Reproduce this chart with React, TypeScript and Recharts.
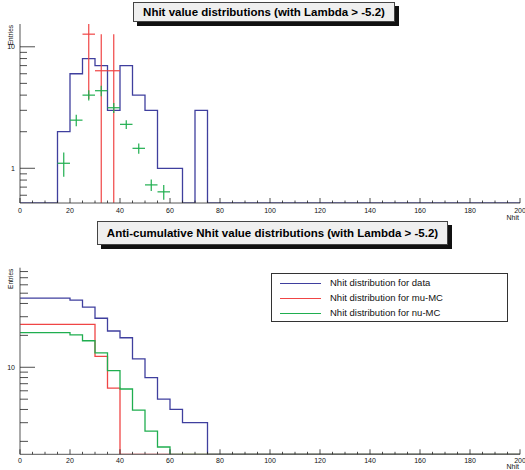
import React from "react";
import { ComposedChart, Line, Scatter, ErrorBar, XAxis, YAxis, Legend, Label } from "recharts";

const FONT = '"Liberation Sans", Arial, sans-serif';
const BLUE = "#3f3f9e";
const RED = "#f04545";
const GREEN = "#1fae4f";
const AXIS = "#555";

// x axis (Nhit)
const X_TICKS = [
  0, 5, 10, 15, 20, 25, 30, 35, 40, 45, 50, 55, 60, 65, 70, 75, 80, 85, 90, 95, 100,
  105, 110, 115, 120, 125, 130, 135, 140, 145, 150, 155, 160, 165, 170, 175, 180, 185, 190, 195, 200,
];
const X_LABELED = [0, 20, 40, 60, 80, 100, 120, 140, 160, 180, 200];
const BIN_HALF = 2.5;

// top panel: Nhit value distributions
const TOP_Y_DOMAIN = [0.518, 15.4];
const TOP_Y_TICKS = [0.6, 0.7, 0.8, 0.9, 1, 2, 3, 4, 5, 6, 7, 8, 9, 10];
const TOP_Y_LABELED = [1, 10];

const DATA_BIN_LO = [0, 15, 20, 25, 30, 35, 40, 45, 50, 55, 60, 65, 70, 75, 200];
const DATA_COUNTS = [0, 2, 6, 8, 7, 3, 7, 4, 3, 1, 1, 0, 3, 0, 0];

const MU_X = [27.5, 32.5, 37.5];
const MU_Y = [12.7, 6.35, 6.35];
const MU_ERR = [8.98, 6.35, 6.35];

const NU_X = [17.5, 22.5, 27.5, 32.5, 37.5, 42.5, 47.5, 52.5, 57.5];
const NU_Y = [1.1, 2.49, 4.0, 4.35, 3.15, 2.3, 1.46, 0.73, 0.64];
const NU_ERR = [0.25, 0.27, 0.38, 0.43, 0.3, 0.19, 0.14, 0.08, 0.09];

// bottom panel: anti-cumulative distributions
const ANTI_Y_DOMAIN = [1.51, 87];
const ANTI_Y_TICKS = [2, 3, 4, 5, 6, 7, 8, 9, 10, 20, 30, 40, 50, 60, 70, 80];
const ANTI_Y_LABELED = [10];

const ANTI_DATA_LO = [0, 20, 25, 30, 35, 40, 45, 50, 55, 60, 65, 75, 200];
const ANTI_DATA = [45, 43, 37, 29, 22, 19, 12, 8, 5, 4, 3, 0, 0];
const ANTI_MU_LO = [0, 30, 35, 40, 200];
const ANTI_MU = [25.4, 12.7, 6.35, 0, 0];
const ANTI_NU_LO = [0, 20, 25, 30, 35, 40, 45, 50, 55, 60, 200];
const ANTI_NU = [21.2, 20.2, 17.8, 13.7, 9.3, 6.24, 3.95, 2.5, 1.77, 0, 0];

const SERIES_NAMES = ["Nhit distribution for data", "Nhit distribution for mu-MC", "Nhit distribution for nu-MC"];
const SERIES_COLORS = [BLUE, RED, GREEN];

// empty bins sit on the bottom of a log axis
const steps = (lo: number[], vals: number[], ymin: number) =>
  lo.map((x, i) => ({ x, v: Math.max(vals[i], ymin) }));

// error crosses, clipped to the visible log range
const crosses = (xs: number[], ys: number[], errs: number[], dom: number[]) =>
  xs.map((x, i) => ({
    x,
    y: ys[i],
    ex: BIN_HALF,
    ey: [Math.min(errs[i], ys[i] - dom[0]), Math.min(errs[i], dom[1] - ys[i])],
  }));

function XTick(props: any) {
  const { x, y, payload, labelDy } = props;
  const v = payload.value;
  const major = X_LABELED.includes(v);
  return (
    <g>
      <line x1={x} x2={x} y1={y} y2={y - (major ? 5 : 2.5)} stroke="#222" strokeWidth={0.8} />
      {major && (
        <text x={x} y={y + labelDy} textAnchor="middle" fontSize={7} fontFamily={FONT} fill="#111">
          {v}
        </text>
      )}
    </g>
  );
}

function YTick(props: any) {
  const { x, y, payload, labeled, majorLen, minorLen } = props;
  const v = payload.value;
  const major = labeled.includes(v);
  return (
    <g>
      <line x1={x} x2={x + (major ? majorLen : minorLen)} y1={y} y2={y} stroke="#222" strokeWidth={0.8} />
      {major && (
        <text x={x - 5} y={y + 2.5} textAnchor="end" fontSize={7} fontFamily={FONT} fill="#111">
          {v}
        </text>
      )}
    </g>
  );
}

const yTitle = (props: any) => {
  const vb = props.viewBox;
  const tx = vb.x + 13;
  const ty = vb.y + 1;
  return (
    <text x={tx} y={ty} transform={`rotate(-90, ${tx}, ${ty})`} textAnchor="end" fontSize={6.5} fontFamily={FONT} fill="#111">
      Entries
    </text>
  );
};

const xTitle = (dy: number) => (props: any) => {
  const vb = props.viewBox;
  return (
    <text x={vb.x + vb.width - 1} y={vb.y + dy} textAnchor="end" fontSize={7} fontFamily={FONT} fill="#111">
      Nhit
    </text>
  );
};

function Title({ text, left, top, width, height }: any) {
  return (
    <div
      style={{
        position: "absolute",
        left,
        top,
        width,
        height,
        boxSizing: "border-box",
        border: "1px solid #444",
        background: "#efefef",
        boxShadow: "4px 4px 0 #111",
        display: "flex",
        alignItems: "center",
        justifyContent: "center",
        fontFamily: FONT,
        fontWeight: "bold",
        fontSize: 11.5,
        color: "#000",
        zIndex: 2,
      }}
    >
      {text}
    </div>
  );
}

function LegendBox() {
  return (
    <div
      style={{
        width: 237,
        height: 49,
        boxSizing: "border-box",
        border: "1px solid #333",
        background: "#fff",
        paddingTop: 1,
        fontFamily: FONT,
      }}
    >
      {SERIES_NAMES.map((name, i) => (
        <div key={name} style={{ position: "relative", height: 15 }}>
          <div style={{ position: "absolute", left: 8, top: 8, width: 41, height: 1, background: SERIES_COLORS[i] }} />
          <span style={{ position: "absolute", left: 58, top: 2, fontSize: 9.5, lineHeight: "12px", color: "#111", whiteSpace: "nowrap" }}>
            {name}
          </span>
        </div>
      ))}
    </div>
  );
}

function TopPanel() {
  const data = steps(DATA_BIN_LO, DATA_COUNTS, TOP_Y_DOMAIN[0]);
  const mu = crosses(MU_X, MU_Y, MU_ERR, TOP_Y_DOMAIN);
  const nu = crosses(NU_X, NU_Y, NU_ERR, TOP_Y_DOMAIN);
  return (
    <ComposedChart width={525} height={235} margin={{ top: 24, right: 5, bottom: 0, left: 0 }}>
      <Line data={data} dataKey="v" type="stepAfter" stroke={BLUE} strokeWidth={1.3} dot={false} activeDot={false} isAnimationActive={false} />
      <Scatter data={mu} dataKey="y" shape={() => <g />} isAnimationActive={false}>
        <ErrorBar dataKey="ex" direction="x" width={0} stroke={RED} strokeWidth={1.2} />
        <ErrorBar dataKey="ey" direction="y" width={0} stroke={RED} strokeWidth={1.2} />
      </Scatter>
      <Scatter data={nu} dataKey="y" shape={() => <g />} isAnimationActive={false}>
        <ErrorBar dataKey="ex" direction="x" width={0} stroke={GREEN} strokeWidth={1.2} />
        <ErrorBar dataKey="ey" direction="y" width={0} stroke={GREEN} strokeWidth={1.2} />
      </Scatter>
      <XAxis
        dataKey="x"
        type="number"
        domain={[0, 200]}
        ticks={X_TICKS}
        interval={0}
        height={32}
        tickSize={0}
        tickMargin={0}
        tickLine={false}
        axisLine={{ stroke: AXIS }}
        tick={(p: any) => <XTick {...p} labelDy={10} />}
      >
        <Label content={xTitle(17)} />
      </XAxis>
      <XAxis xAxisId="frame" orientation="top" type="number" domain={[0, 200]} height={0} tick={false} tickLine={false} axisLine={{ stroke: AXIS }} />
      <YAxis
        type="number"
        scale="log"
        domain={TOP_Y_DOMAIN}
        allowDataOverflow
        ticks={TOP_Y_TICKS}
        interval={0}
        width={20}
        tickSize={0}
        tickMargin={0}
        tickLine={false}
        axisLine={{ stroke: AXIS }}
        tick={(p: any) => <YTick {...p} labeled={TOP_Y_LABELED} majorLen={15} minorLen={7} />}
      >
        <Label content={yTitle} />
      </YAxis>
      <YAxis yAxisId="frame" orientation="right" type="number" domain={[0, 1]} width={0} tick={false} tickLine={false} axisLine={{ stroke: AXIS }} />
    </ComposedChart>
  );
}

function BottomPanel() {
  const d = steps(ANTI_DATA_LO, ANTI_DATA, ANTI_Y_DOMAIN[0]);
  const mu = steps(ANTI_MU_LO, ANTI_MU, ANTI_Y_DOMAIN[0]);
  const nu = steps(ANTI_NU_LO, ANTI_NU, ANTI_Y_DOMAIN[0]);
  return (
    <ComposedChart width={525} height={235} margin={{ top: 32.7, right: 5, bottom: 0, left: 0 }}>
      <XAxis
        dataKey="x"
        type="number"
        domain={[0, 200]}
        ticks={X_TICKS}
        interval={0}
        height={15.7}
        tickSize={0}
        tickMargin={0}
        tickLine={false}
        axisLine={{ stroke: AXIS }}
        tick={(p: any) => <XTick {...p} labelDy={8.5} />}
      >
        <Label content={xTitle(14.5)} />
      </XAxis>
      <XAxis xAxisId="frame" orientation="top" type="number" domain={[0, 200]} height={0} tick={false} tickLine={false} axisLine={{ stroke: AXIS }} />
      <YAxis
        type="number"
        scale="log"
        domain={ANTI_Y_DOMAIN}
        allowDataOverflow
        ticks={ANTI_Y_TICKS}
        interval={0}
        width={20}
        tickSize={0}
        tickMargin={0}
        tickLine={false}
        axisLine={{ stroke: AXIS }}
        tick={(p: any) => <YTick {...p} labeled={ANTI_Y_LABELED} majorLen={15} minorLen={8} />}
      >
        <Label content={yTitle} />
      </YAxis>
      <YAxis yAxisId="frame" orientation="right" type="number" domain={[0, 1]} width={0} tick={false} tickLine={false} axisLine={{ stroke: AXIS }} />
      <Line data={d} name={SERIES_NAMES[0]} dataKey="v" type="stepAfter" stroke={BLUE} strokeWidth={1.3} dot={false} activeDot={false} isAnimationActive={false} />
      <Line data={mu} name={SERIES_NAMES[1]} dataKey="v" type="stepAfter" stroke={RED} strokeWidth={1.3} dot={false} activeDot={false} isAnimationActive={false} />
      <Line data={nu} name={SERIES_NAMES[2]} dataKey="v" type="stepAfter" stroke={GREEN} strokeWidth={1.3} dot={false} activeDot={false} isAnimationActive={false} />
      <Legend
        layout="horizontal"
        align="center"
        verticalAlign="middle"
        content={() => <LegendBox />}
        wrapperStyle={{ position: "absolute", left: 271, top: 38, width: 237, height: 49, bottom: "auto", right: "auto" }}
      />
    </ComposedChart>
  );
}

export default function App() {
  return (
    <div style={{ position: "absolute", left: 0, top: 0, width: 525, height: 470, background: "#fff", overflow: "hidden" }}>
      <div style={{ position: "absolute", left: 0, top: 0 }}>
        <TopPanel />
      </div>
      <div style={{ position: "absolute", left: 0, top: 235 }}>
        <BottomPanel />
      </div>
      <Title text="Nhit value distributions (with Lambda > -5.2)" left={133} top={2} width={262} height={20} />
      <Title text="Anti-cumulative Nhit value distributions (with Lambda > -5.2)" left={97} top={221} width={351} height={24} />
    </div>
  );
}
